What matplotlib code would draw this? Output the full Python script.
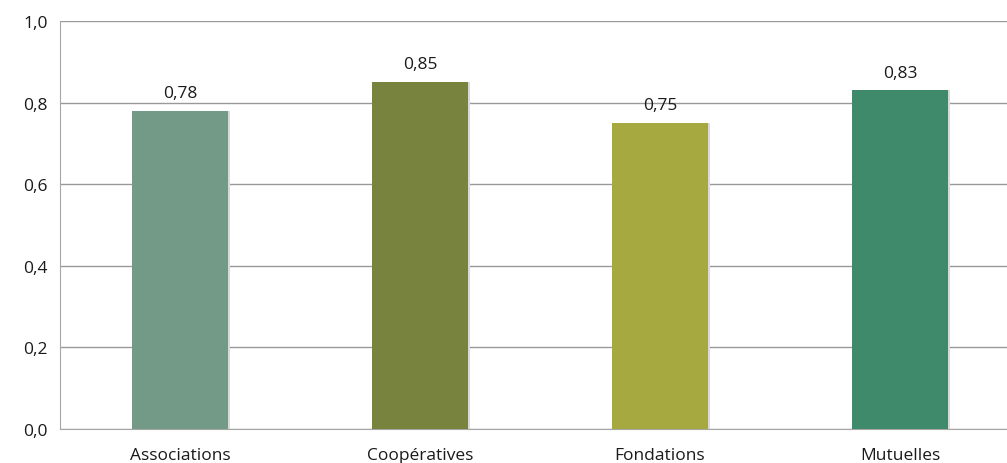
import matplotlib.pyplot as plt
from matplotlib.ticker import FuncFormatter

# données
categories = ["Associations", "Coopératives", "Fondations", "Mutuelles"]
valeurs = [0.78, 0.85, 0.75, 0.83]
couleurs = ["#729A87", "#78843D", "#A6A840", "#3F8A6A"]

plt.rcParams['font.family'] = ['Open Sans', 'DejaVu Sans']

fig = plt.figure(figsize=(10.07, 4.64), dpi=100)
ax = fig.add_axes([60 / 1007, 1 - 430 / 464, 960 / 1007, 408 / 464])

x = list(range(len(categories)))

# ombre légère à droite des barres
ax.bar([i + 0.008 for i in x], valeurs, width=0.4, color="#d9d9d9", zorder=2)
ax.bar(x, valeurs, width=0.4, color=couleurs, zorder=3)

for i, v in zip(x, valeurs):
    ax.annotate(f"{v:.2f}".replace(".", ","), (i, v), xytext=(0, 7),
                textcoords="offset points", ha="center", va="bottom",
                fontsize=12.5, color="#1a1a1a")

ax.set_xlim(-0.5, len(categories) - 0.5)
ax.set_ylim(0, 1.0)
ax.set_yticks([0, 0.2, 0.4, 0.6, 0.8, 1.0])
ax.yaxis.set_major_formatter(FuncFormatter(lambda v, p: f"{v:.1f}".replace(".", ",")))
ax.set_xticks(x)
ax.set_xticklabels(categories)

ax.grid(axis="y", color="#999999", linewidth=1, zorder=0)
ax.tick_params(length=0, labelsize=12.5, colors="#1a1a1a")
ax.tick_params(axis="y", pad=9)
ax.tick_params(axis="x", pad=13)

for s in ["top", "right"]:
    ax.spines[s].set_visible(False)
ax.spines["left"].set_color("#a6a6a6")
ax.spines["bottom"].set_color("#a6a6a6")

fig.savefig("out.png", dpi=100)
